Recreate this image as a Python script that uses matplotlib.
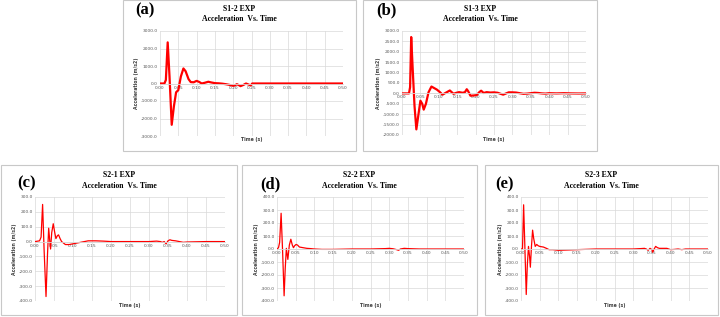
import matplotlib.pyplot as plt
from matplotlib.patches import Rectangle
from matplotlib.ticker import FormatStrFormatter

# S1-2 EXP
t_a = [0.0, 0.012, 0.016, 0.021, 0.026, 0.032, 0.038, 0.044, 0.05, 0.057, 0.064, 0.07, 0.078,
       0.084, 0.092, 0.100, 0.107, 0.114, 0.122, 0.132, 0.14, 0.15, 0.16, 0.17, 0.18, 0.19,
       0.2, 0.205, 0.21, 0.215, 0.22, 0.228, 0.235, 0.242, 0.248, 0.252, 0.5]
a_a = [0, 0, 200, 2350, 400, -2360, -1300, -500, -380, 400, 860, 700, 250,
       80, 70, 150, 90, 0, 40, 100, 60, 20, 10, -10, -40, -80,
       -130, -100, -40, -90, -150, -80, 0, -60, -110, 0, 0]

# S1-3 EXP
t_b = [0.0, 0.019, 0.022, 0.025, 0.029, 0.034, 0.039, 0.044, 0.05, 0.055, 0.059, 0.065, 0.072,
       0.08, 0.088, 0.095, 0.103, 0.11, 0.12, 0.13, 0.14, 0.148, 0.155, 0.165, 0.171, 0.176,
       0.18, 0.186, 0.195, 0.203, 0.21, 0.215, 0.222, 0.23, 0.24, 0.25, 0.26, 0.268, 0.275,
       0.283, 0.29, 0.3, 0.31, 0.32, 0.33, 0.34, 0.35, 0.36, 0.37, 0.38, 0.39, 0.4, 0.42, 0.44,
       0.46, 0.48, 0.5]
a_b = [0, 0, 300, 2710, 1200, -600, -1730, -1100, -350, -500, -780, -500, 50,
       330, 250, 180, 60, -60, 40, 140, -20, 30, 60, 30, 60, 200,
       100, -110, -100, -80, 60, 130, 20, 60, 40, 50, 30, -20, -60,
       0, 50, 50, 40, 10, -20, -10, 10, 30, 20, 0, -10, 10, 0, 10,
       0, -5, 0]

# S2-1 EXP
t_c = [0.0, 0.012, 0.016, 0.020, 0.024, 0.029, 0.033, 0.036, 0.039, 0.041, 0.044, 0.048, 0.052,
       0.055, 0.059, 0.062, 0.066, 0.07, 0.075, 0.08, 0.09, 0.1, 0.11, 0.12, 0.13, 0.14, 0.16,
       0.18, 0.2, 0.25, 0.3, 0.32, 0.33, 0.335, 0.34, 0.345, 0.35, 0.355, 0.36, 0.37, 0.38,
       0.39, 0.4, 0.45, 0.5]
a_c = [0, 5, 30, 250, -60, -370, -80, 90, 0, -50, 60, 120, 60,
       20, 40, 45, 20, 0, -10, -20, -20, -15, -10, -5, 0, 5, 5,
       3, 0, 0, 0, 3, 0, -5, 0, -15, 5, 12, 8, 5, 0,
       -5, -3, 0, 0]

# S2-2 EXP
t_d = [0.0, 0.004, 0.007, 0.011, 0.015, 0.019, 0.022, 0.025, 0.029, 0.033, 0.037, 0.041, 0.044,
       0.047, 0.051, 0.055, 0.06, 0.07, 0.08, 0.09, 0.1, 0.12, 0.15, 0.2, 0.25, 0.29, 0.3,
       0.31, 0.32, 0.325, 0.33, 0.34, 0.35, 0.38, 0.4, 0.45, 0.5]
a_d = [0, 10, 50, 275, -20, -360, -150, 5, -80, 30, 75, 30, 10,
       25, 35, 30, 15, 10, 5, 3, 0, -3, -3, 0, 0, 3, 5,
       2, -5, -10, 0, 5, 3, 0, 0, 0, 0]

# S2-3 EXP
t_e = [0.0, 0.004, 0.007, 0.01, 0.014, 0.017, 0.02, 0.023, 0.025, 0.028, 0.031, 0.034, 0.038,
       0.042, 0.046, 0.05, 0.06, 0.068, 0.075, 0.085, 0.1, 0.12, 0.15, 0.2, 0.25, 0.3, 0.32,
       0.33, 0.335, 0.34, 0.345, 0.35, 0.352, 0.356, 0.36, 0.365, 0.37, 0.38, 0.39, 0.4, 0.41,
       0.42, 0.43, 0.44, 0.46, 0.5]
a_e = [0, 0, 340, 50, -350, -120, 20, -60, -140, 20, 145, 80, 20,
       35, 25, 20, 15, 5, -5, -5, -10, -8, -5, 0, 0, 0, 3,
       5, 0, -10, 5, -5, -25, 0, 20, 10, 5, 5, 5, -5, -3,
       0, -5, 0, 0, 0]

panels = [
    ("(a)", "S1-2 EXP", t_a, a_a, [-3000, -2000, -1000, 0, 1000, 2000, 3000], 1.6,
     (123, 0, 356, 151), (160, 31, 343, 136), 145, 10, 9, 19, 140),
    ("(b)", "S1-3 EXP", t_b, a_b, [-2000, -1500, -1000, -500, 0, 500, 1000, 1500, 2000, 2500, 3000], 1.6,
     (363, 0, 597, 151), (402, 31, 586, 135), 386, 10, 9, 19, 140),
    ("(c)", "S2-1 EXP", t_c, a_c, [-400, -300, -200, -100, 0, 100, 200, 300], 0.9,
     (1, 165, 237, 315), (35, 197, 225, 301), 27, 183, 175, 186, 306),
    ("(d)", "S2-2 EXP", t_d, a_d, [-400, -300, -200, -100, 0, 100, 200, 300, 400], 0.9,
     (242, 165, 477, 315), (277, 197, 464, 301), 270, 184, 175, 186, 306),
    ("(e)", "S2-3 EXP", t_e, a_e, [-400, -300, -200, -100, 0, 100, 200, 300, 400], 0.9,
     (485, 165, 718, 315), (521, 197, 708, 301), 505, 184, 175, 186, 306),
]

W, H = 720, 317
fig = plt.figure(figsize=(7.2, 3.17), dpi=100)
fig.patch.set_facecolor("white")
grid_c = "#d9d9d9"
serif = "Liberation Serif"

for tag, name, t, acc, yt, lw, frame, box, tx, ty, y1, y2, xl_y in panels:
    fx0, fy0, fx1, fy1 = frame
    fig.add_artist(Rectangle((fx0 / W, 1 - fy1 / H), (fx1 - fx0) / W, (fy1 - fy0) / H,
                             transform=fig.transFigure, fill=False, ec="#c8c8c8", lw=0.8))
    x0, y0, x1, y1b = box
    ax = fig.add_axes([x0 / W, 1 - y1b / H, (x1 - x0) / W, (y1b - y0) / H])
    ax.plot(t, acc, color="#ff0000", lw=lw, solid_joinstyle="round")
    ax.set_xlim(0, 0.5)
    ax.set_ylim(yt[0], yt[-1])
    ax.set_xticks([i * 0.05 for i in range(11)])
    ax.set_yticks(yt)
    ax.xaxis.set_major_formatter(FormatStrFormatter("%.2f"))
    ax.yaxis.set_major_formatter(FormatStrFormatter("%.1f"))
    ax.grid(True, color=grid_c, lw=0.5)
    ax.set_axisbelow(True)
    for s in ["top", "right", "left"]:
        ax.spines[s].set_visible(False)
    ax.spines["bottom"].set_position(("data", 0))
    ax.spines["bottom"].set_color(grid_c)
    ax.spines["bottom"].set_linewidth(0.6)
    ax.tick_params(length=0, labelsize=3.2, labelcolor="#595959", pad=1.5)
    cx = (fx0 + fx1) / 2
    fig.text(cx / W, 1 - y1 / H, name, ha="center", va="center", family=serif,
             weight="bold", fontsize=5.6)
    fig.text(cx / W, 1 - y2 / H, "Acceleration  Vs. Time", ha="center", va="center",
             family=serif, weight="bold", fontsize=5.6)
    fig.text(tx / W, 1 - ty / H, tag, ha="center", va="center", family=serif,
             weight="bold", fontsize=12)
    fig.text((x0 + x1) / 2 / W, 1 - xl_y / H, "Time (s)", ha="center", va="center",
             weight="bold", fontsize=3.3, color="#404040")
    ax.set_ylabel("Acceleration (m/s2)", fontsize=3.3, weight="bold", color="#404040",
                  labelpad=1.5)

fig.savefig("out.png", dpi=100)
